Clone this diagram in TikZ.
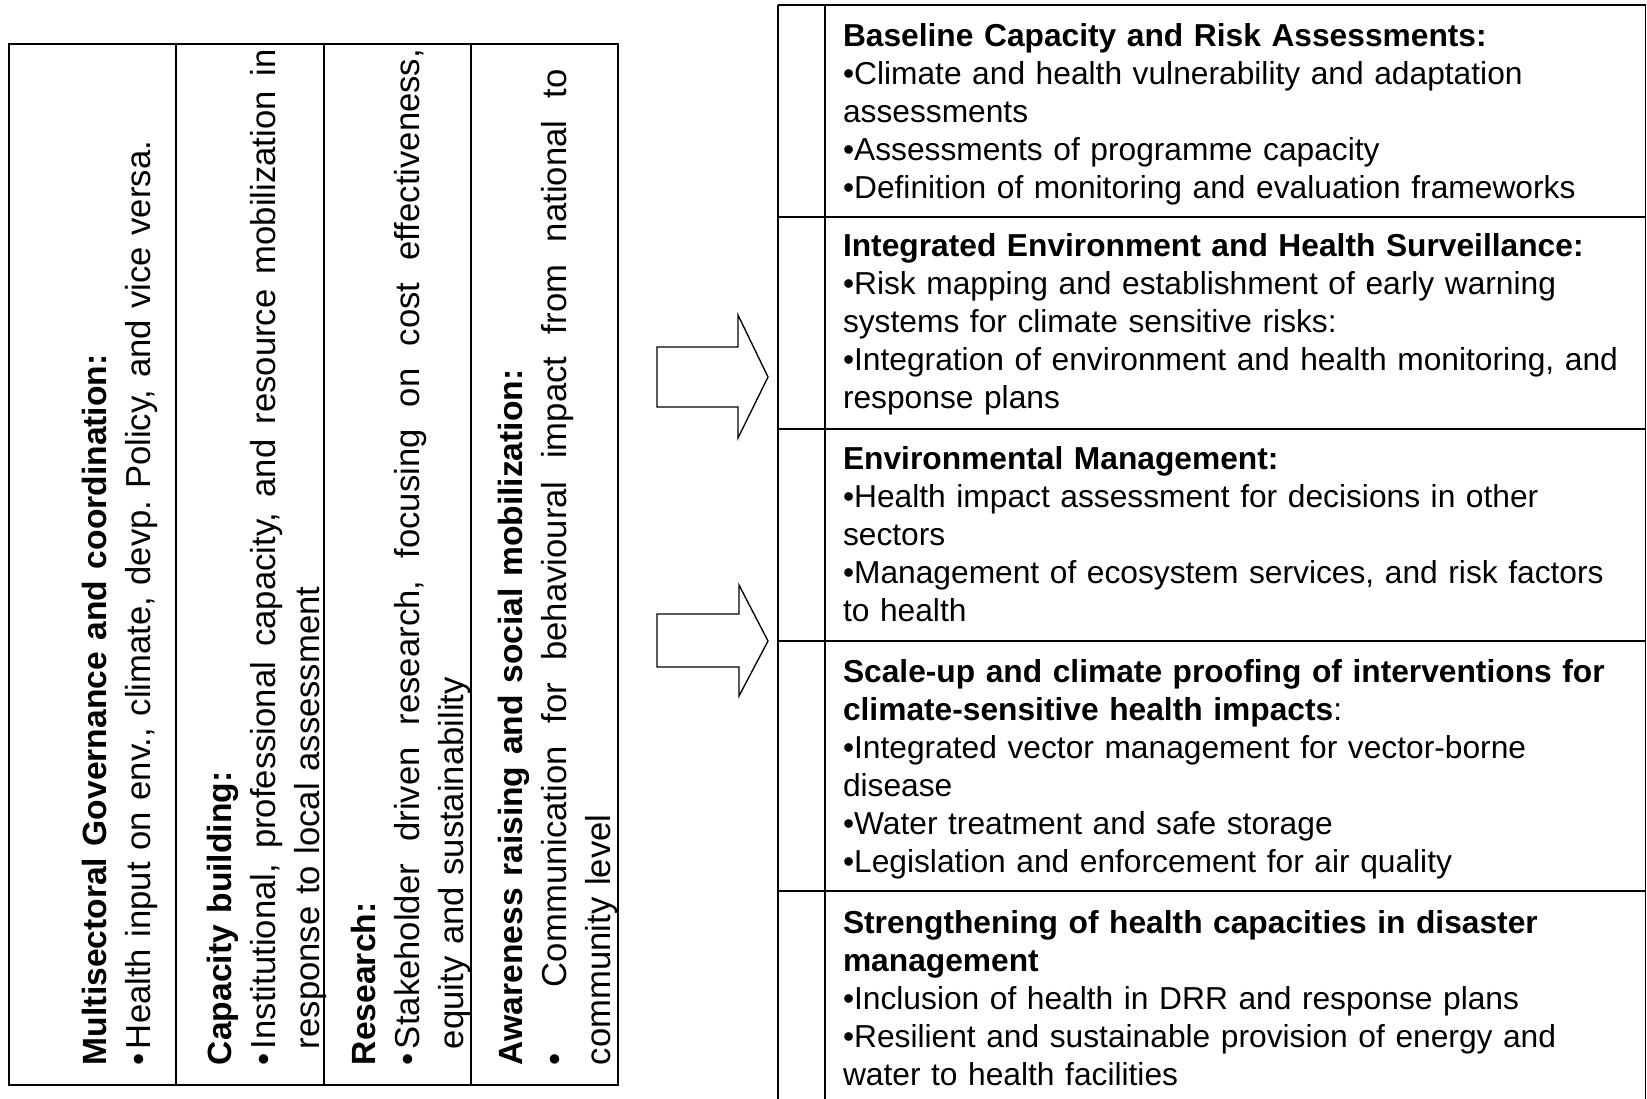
\documentclass[tikz,border=0pt]{standalone}
\usepackage{fontspec}
\setmainfont{Liberation Sans}
\frenchspacing
\begin{document}
\begin{tikzpicture}[x=0.75pt,y=-0.75pt,
  tbl/.style={line width=1.5pt},
  thinrule/.style={line width=0.9pt},
  blockarrow/.style={draw, line width=1pt, fill=white, line join=miter},
  sidetext/.style={rotate=90, anchor=base west, inner sep=0pt, outer sep=0pt,
    text width=800pt, align=left, font=\fontsize{26pt}{33pt}\selectfont\frenchspacing},
  celltext/.style={anchor=base west, inner sep=0pt, outer sep=0pt,
    text width=600pt, align=left, font=\fontsize{23.8pt}{28.5pt}\selectfont\frenchspacing},
]
\useasboundingbox (0,0) rectangle (1647,1099);
\newcommand{\bul}{\makebox[12pt][l]{•}}
\newcommand{\hd}[1]{{\fontsize{25.2pt}{33pt}\selectfont\bfseries #1}}
% a justified line: every interword space stretches equally to fill the width
\newcommand{\just}[2]{{\spaceskip=\fontdimen2\font plus 1fil\relax
  \xspaceskip=\spaceskip\makebox[#1][s]{#2}}}

% ---- left table: four rotated columns ----
\draw[tbl] (9,44) rectangle (618,1085);
\foreach \cx in {176,324,471} \draw[tbl] (\cx,44) -- (\cx,1085);

\node[sidetext] (gov) at (106,1065)
  {\hd{Multisectoral Governance and coordination:}\\
   \bul Health input on env., climate, devp. Policy, and vice versa.};
\node[sidetext] (cap) at (231,1065)
  {\hd{Capacity building:}\\
   \just{762pt}{\bul Institutional, professional capacity, and resource mobilization in}\\
   \hspace*{12pt}response to local assessment};
\node[sidetext] (res) at (375,1065)
  {\hd{Research:}\\
   \just{762pt}{\bul Stakeholder driven research, focusing on cost effectiveness,}\\
   \hspace*{12pt}equity and sustainability};
\node[sidetext] (aware) at (522,1065)
  {\hd{Awareness raising and social mobilization:}\\
   \just{747pt}{\makebox[58.5pt][l]{•}Communication for behavioural impact from national to}\\
   community level};

% ---- block arrows ----
\draw[blockarrow] (657,347) -- (738,347) -- (738,315) -- (768,377)
  -- (738,438) -- (738,407) -- (657,407) -- cycle;
\draw[blockarrow] (657,614) -- (739,614) -- (739,585) -- (768,641)
  -- (739,696) -- (739,667) -- (657,667) -- cycle;

% ---- right table: five rows ----
\draw[tbl] (778,5) -- (1646,5);
\draw[tbl] (778,5) -- (778,1099);
\draw[tbl] (825,5) -- (825,1099);
\draw[thinrule] (1645.5,5) -- (1645.5,1099);
\foreach \ry in {217,429,641,891} \draw[tbl] (778,\ry) -- (1646,\ry);

\node[celltext] (baseline) at (843,46.7)
  {\textbf{Baseline Capacity and Risk Assessments:}\\
   •Climate and health vulnerability and adaptation\\
   assessments\\
   •Assessments of programme capacity\\
   •Definition of monitoring and evaluation frameworks};
\node[celltext] (surveil) at (843,256.7)
  {\textbf{Integrated Environment and Health Surveillance:}\\
   •Risk mapping and establishment of early warning\\
   systems for climate sensitive risks:\\
   •Integration of environment and health monitoring, and\\
   response plans};
\node[celltext] (envman) at (843,469.8)
  {\textbf{Environmental Management:}\\
   •Health impact assessment for decisions in other\\
   sectors\\
   •Management of ecosystem services, and risk factors\\
   to health};
\node[celltext] (scaleup) at (843,682)
  {\textbf{Scale-up and climate proofing of interventions for}\\
   \textbf{climate-sensitive health impacts}:\\
   •Integrated vector management for vector-borne\\
   disease\\
   •Water treatment and safe storage\\
   •Legislation and enforcement for air quality};
\node[celltext] (disaster) at (843,933)
  {\textbf{Strengthening of health capacities in disaster}\\
   \textbf{management}\\
   •Inclusion of health in DRR and response plans\\
   •Resilient and sustainable provision of energy and\\
   water to health facilities};
\end{tikzpicture}
\end{document}
